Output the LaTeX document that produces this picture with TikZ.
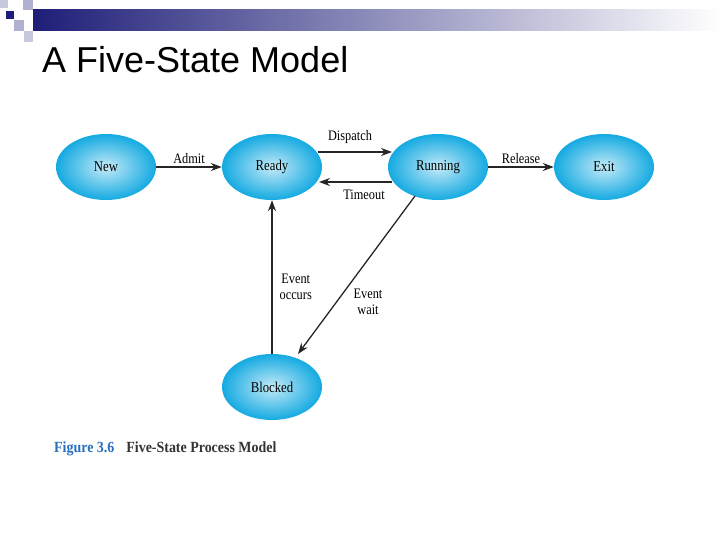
\documentclass[tikz,border=0pt]{standalone}
\usepackage{fontspec}
\setmainfont{Liberation Serif}
\newfontfamily\hfont{Liberation Sans}
\usetikzlibrary{arrows.meta,shapes.geometric}
\definecolor{navy}{RGB}{30,30,120}
\definecolor{cyanS}{RGB}{20,170,225}
\definecolor{capblue}{RGB}{40,110,190}
\begin{document}
\begin{tikzpicture}[x=1pt,y=-1pt,
 st/.style={ellipse,minimum width=100pt,minimum height=66pt,inner sep=0pt,
   shading=radial,inner color=white!75!cyanS,outer color=cyanS,font=\fontsize{15}{17}\selectfont\addfontfeatures{FakeStretch=0.85}},
 arr/.style={-{Stealth[length=11pt,width=8pt]},line width=1.3pt,draw=black!85},
 lab/.style={font=\fontsize{14.5}{16}\selectfont\addfontfeatures{FakeStretch=0.85},align=center,inner sep=1pt}]
\useasboundingbox (0,0) rectangle (720,540);
% header decoration
\shade[left color=navy,right color=white] (33,10) rectangle (720,31);
\fill[navy!35] (23,0) rectangle (33,10);
\fill[navy!25] (0,0) rectangle (8,8);
\fill[navy] (6,11) rectangle (14,19);
\fill[navy!35] (14,20) rectangle (24,31);
\fill[navy!25] (24,31) rectangle (33,42);
\node[anchor=west,font=\hfont\fontsize{36}{40}\selectfont,inner sep=0pt] (title) at (42,60) {A Five-State Model};
% states
\node[st] (new) at (106,167) {New};
\node[st] (ready) at (272,167) {Ready};
\node[st] (run) at (438,167) {Running};
\node[st] (exit) at (604,167) {Exit};
\node[st] (blk) at (272,387) {Blocked};
% arrows
\draw[arr] (new) -- (ready) node[lab,midway,above=2pt] {Admit};
\draw[arr] (run) -- (exit) node[lab,midway,above=2pt] {Release};
\coordinate (d1) at (318,152); \coordinate (d2) at (392,152);
\draw[arr] (d1) -- (d2);
\node[lab] (dl) at (350,137) {Dispatch};
\coordinate (t1) at (392,182); \coordinate (t2) at (319,182);
\draw[arr] (t1) -- (t2);
\node[lab] (tl) at (364,195) {Timeout};
\draw[arr] (blk) -- (ready);
\node[lab,anchor=east] (eo) at (313,287) {Event\\occurs};
\coordinate (w1) at (415,196); \coordinate (w2) at (298,354);
\draw[arr] (w1) -- (w2);
\node[lab] (ew) at (368,302) {Event\\wait};
% caption
\node[anchor=west,inner sep=0pt,font=\bfseries\fontsize{15.5}{17}\selectfont\addfontfeatures{FakeStretch=0.9}] (cap) at (54,449)
 {\textcolor{capblue}{Figure 3.6}\hspace{12pt}\textcolor{black!80}{Five-State Process Model}};
\end{tikzpicture}
\end{document}
